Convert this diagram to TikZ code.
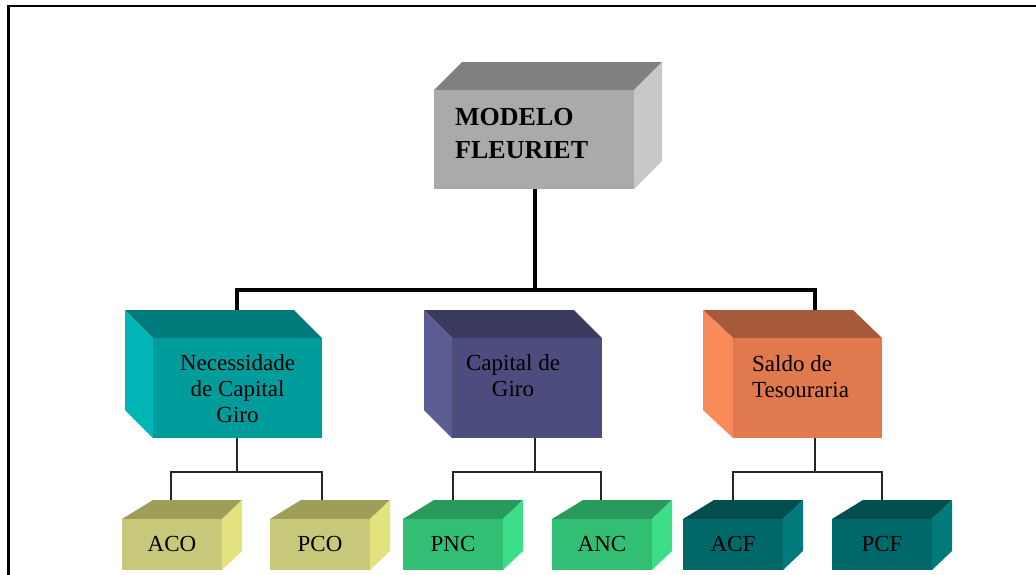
\documentclass[tikz,border=0pt]{standalone}
\usepackage{fontspec}
\setmainfont{Liberation Serif}
\definecolor{grF}{HTML}{AAAAAA}\definecolor{grT}{HTML}{808080}\definecolor{grS}{HTML}{C8C8C8}
\definecolor{tlF}{HTML}{009B9B}\definecolor{tlT}{HTML}{007A7A}\definecolor{tlS}{HTML}{00B5B5}
\definecolor{cpF}{HTML}{4C4C7E}\definecolor{cpT}{HTML}{3B3B60}\definecolor{cpS}{HTML}{5C5C94}
\definecolor{sdF}{HTML}{E07A4E}\definecolor{sdT}{HTML}{A65A3A}\definecolor{sdS}{HTML}{F98A5A}
\definecolor{olF}{HTML}{C8C87A}\definecolor{olT}{HTML}{9E9E58}\definecolor{olS}{HTML}{E2E27E}
\definecolor{gnF}{HTML}{33BF73}\definecolor{gnT}{HTML}{2A9A5C}\definecolor{gnS}{HTML}{3CDE88}
\definecolor{dkF}{HTML}{006868}\definecolor{dkT}{HTML}{004E4E}\definecolor{dkS}{HTML}{007A7A}
\tikzset{
  frontface/.style={rectangle, inner sep=0pt, outer sep=0pt},
  thick link/.style={line width=4pt, black},
  thin link/.style={line width=1.6pt, black!85},
  boxtext/.style={font=\fontsize{23}{26}\selectfont, inner sep=0pt, text=black},
  smalltext/.style={font=\fontsize{23}{26}\selectfont, inner sep=0pt, text=black},
}
\begin{document}
\begin{tikzpicture}[x=1pt,y=-1pt]
\useasboundingbox (0,0) rectangle (1036,574);
\fill[white] (0,0) rectangle (1036,574);
% frame
\draw[line width=2.6pt, line cap=rect] (8.5,574) -- (8.5,6) -- (1036,6);

% ---------- top box ----------
\fill[grT] (434,90) -- (462,62) -- (662,62) -- (634,90) -- cycle;
\fill[grS] (634,90) -- (662,62) -- (662,161) -- (634,189) -- cycle;
\node[frontface, fill=grF, minimum width=200pt, minimum height=99pt] (modelo) at (534,139.5) {};
\node[anchor=base west, inner sep=0pt, font=\fontsize{26}{30}\selectfont\bfseries] (modelo1) at (455,125) {MODELO};
\node[anchor=base west, inner sep=0pt, font=\fontsize{26}{30}\selectfont\bfseries] (modelo2) at (455,158) {FLEURIET};

% ---------- middle boxes ----------
\fill[tlT] (153,338) -- (125,310) -- (294,310) -- (322,338) -- cycle;
\fill[tlS] (125,310) -- (153,338) -- (153,438) -- (125,410) -- cycle;
\node[frontface, fill=tlF, minimum width=169pt, minimum height=100pt] (ncg) at (237.5,388) {};
\node[boxtext, anchor=base, align=center] (ncgt) at (237.5,422) {Necessidade\\de Capital\\Giro};

\fill[cpT] (452,338) -- (424,310) -- (574,310) -- (602,338) -- cycle;
\fill[cpS] (424,310) -- (452,338) -- (452,438) -- (424,410) -- cycle;
\node[frontface, fill=cpF, minimum width=150pt, minimum height=100pt] (cdg) at (527,388) {};
\node[boxtext, anchor=base, align=center] (cdgt) at (513,396) {Capital de\\Giro};

\fill[sdT] (733,338) -- (703,310) -- (853,310) -- (882,338) -- cycle;
\fill[sdS] (703,310) -- (733,338) -- (733,438) -- (703,410) -- cycle;
\node[frontface, fill=sdF, minimum width=149pt, minimum height=100pt] (sdt) at (807.5,388) {};
\node[boxtext, anchor=base west, align=left] (sdtt) at (752,397) {Saldo de\\Tesouraria};

% ---------- thick connectors ----------
\coordinate (busC) at (535,290);
\coordinate (busL) at (237,290);
\coordinate (busR) at (815,290);
\coordinate (ncgTop) at (237,310);
\coordinate (cdgTop) at (535,310);
\coordinate (sdtTop) at (815,310);
\draw[thick link] (modelo.south -| busC) -- (busC);
\draw[thick link] (ncgTop) -- (busL) -- (busR) -- (sdtTop);

% ---------- lower boxes ----------
\foreach \L/\nm/\txt/\c in {122/aco/ACO/ol, 270/pco/PCO/ol, 403/pnc/PNC/gn, 552/anc/ANC/gn, 683/acf/ACF/dk, 832/pcf/PCF/dk}{
  \fill[\c T] (\L,519) -- (\L+31,500) -- (\L+120,500) -- (\L+100,519) -- cycle;
  \fill[\c S] (\L+100,519) -- (\L+120,500) -- (\L+120,551) -- (\L+100,570) -- cycle;
  \node[frontface, fill=\c F, minimum width=100pt, minimum height=51pt] (\nm) at (\L+50,544.5) {};
  \node[smalltext, anchor=base] (\nm t) at (\L+50,551) {\txt};
}

% ---------- thin connectors ----------
\foreach \parent/\px/\a/\ax/\b/\bx in {ncg/237/aco/171/pco/322, cdg/535/pnc/453/anc/601, sdt/815/acf/733/pcf/882}{
  \coordinate (\parent B) at (\px,472);
  \coordinate (\a J) at (\ax,472);
  \coordinate (\b J) at (\bx,472);
  \coordinate (\a Top) at (\ax,500);
  \coordinate (\b Top) at (\bx,500);
  \draw[thin link] (\parent.south -| \parent B) -- (\parent B);
  \draw[thin link] (\a Top) -- (\a J) -- (\b J) -- (\b Top);
}
\end{tikzpicture}
\end{document}
